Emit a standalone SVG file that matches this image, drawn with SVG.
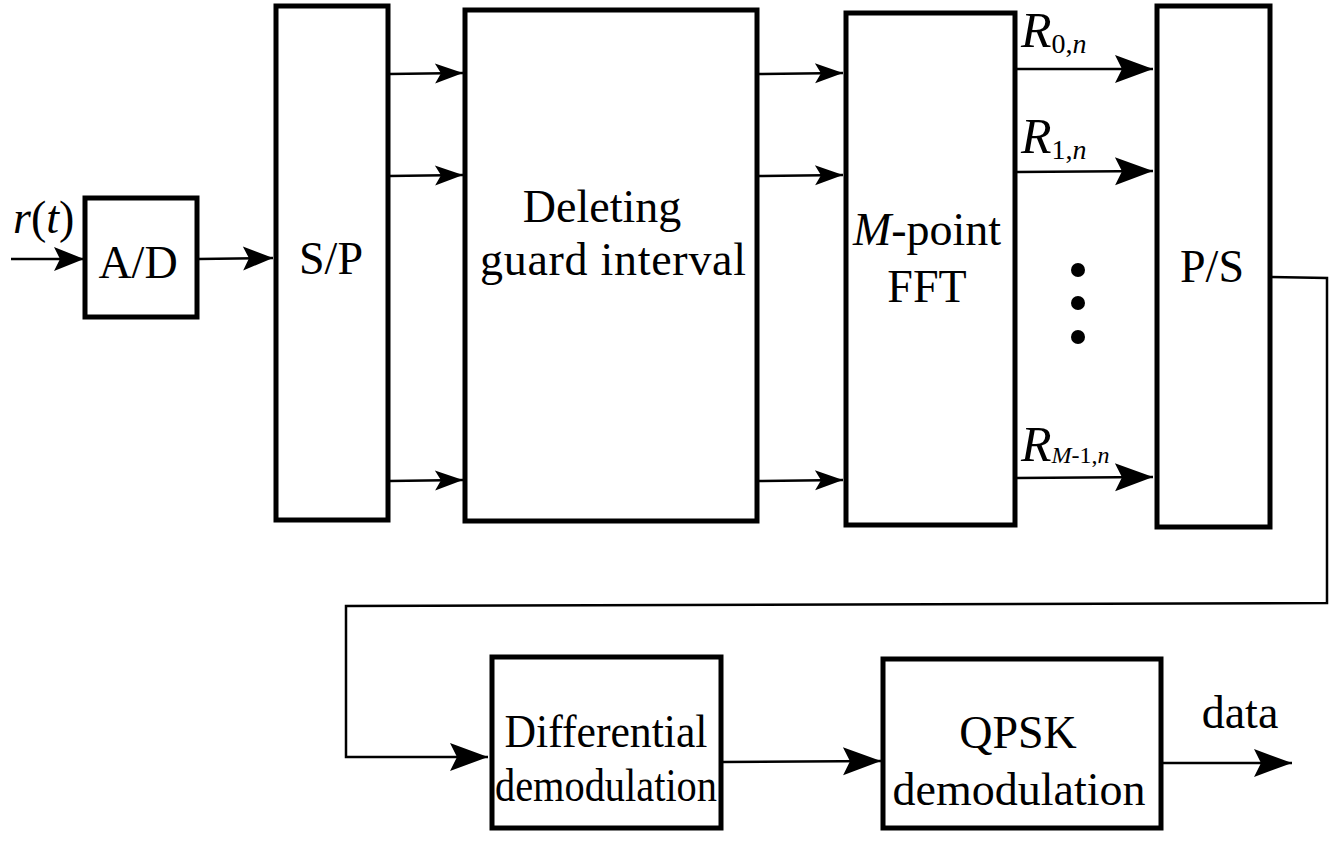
<svg xmlns="http://www.w3.org/2000/svg" width="1338" height="861" viewBox="0 0 1338 861">
  <style>
    .box { fill: #fff; stroke: #000; stroke-width: 5; }
    .wire { fill: none; stroke: #000; stroke-width: 2.5; }
    .lbl { font-family: 'Liberation Serif', Tinos, 'DejaVu Serif', serif; font-size: 46px; fill: #000; }
    .it { font-style: italic; }
    .sym { font-size: 50px; }
    .sub { font-size: 28px; }
    .sub-narrow { font-size: 24px; }
  </style>
  <defs>
    <marker id="big" markerUnits="userSpaceOnUse" markerWidth="40" markerHeight="30" viewBox="-38 -15 39 30" refX="0" refY="0" orient="auto">
      <path d="M0,0 L-38,-14 L-31,0 L-38,14 Z" fill="#000"/>
    </marker>
    <marker id="mid" markerUnits="userSpaceOnUse" markerWidth="32" markerHeight="26" viewBox="-30 -13 31 26" refX="0" refY="0" orient="auto">
      <path d="M0,0 L-30,-12 L-24,0 L-30,12 Z" fill="#000"/>
    </marker>
    <marker id="small" markerUnits="userSpaceOnUse" markerWidth="30" markerHeight="22" viewBox="-29 -11 30 22" refX="0" refY="0" orient="auto">
      <path d="M0,0 L-28,-10 L-22,0 L-28,10 Z" fill="#000"/>
    </marker>
  </defs>

  <!-- signal paths between blocks -->
  <g id="connectors">
    <path class="wire" d="M11,259 L84,259" marker-end="url(#mid)"/>
    <path class="wire" d="M198,259 L273,258" marker-end="url(#mid)"/>
    <path class="wire" d="M389,74 L463,73" marker-end="url(#small)"/>
    <path class="wire" d="M389,176 L463,175" marker-end="url(#small)"/>
    <path class="wire" d="M389,481 L463,480" marker-end="url(#small)"/>
    <path class="wire" d="M759,74 L843,73" marker-end="url(#small)"/>
    <path class="wire" d="M759,176 L843,175" marker-end="url(#small)"/>
    <path class="wire" d="M759,481 L843,480" marker-end="url(#small)"/>
    <path class="wire" d="M1016,69 L1153,69" marker-end="url(#big)"/>
    <path class="wire" d="M1016,172 L1153,171" marker-end="url(#big)"/>
    <path class="wire" d="M1016,478 L1153,477" marker-end="url(#big)"/>
    <path class="wire" d="M1271,277 L1327,278 L1327,603 L346,606 L346,757 L488,757" marker-end="url(#big)"/>
    <path class="wire" d="M722,762 L881,761" marker-end="url(#big)"/>
    <path class="wire" d="M1162,763 L1292,763" marker-end="url(#big)"/>
  </g>

  <g id="input-label">
    <text class="lbl" x="13" y="233"><tspan class="it">r</tspan>(<tspan class="it">t</tspan>)</text>
  </g>

  <g id="ad">
    <rect class="box" x="85" y="198" width="112" height="119"/>
    <text class="lbl" x="138" y="278" text-anchor="middle">A/D</text>
  </g>

  <g id="sp">
    <rect class="box" x="276" y="6" width="112" height="514"/>
    <text class="lbl" x="331" y="274" text-anchor="middle">S/P</text>
  </g>

  <g id="guard">
    <rect class="box" x="465" y="10" width="292" height="511"/>
    <text class="lbl" x="602" y="222" text-anchor="middle">Deleting</text>
    <text class="lbl" x="613" y="275" text-anchor="middle" textLength="266" lengthAdjust="spacing">guard interval</text>
  </g>

  <g id="fft">
    <rect class="box" x="846" y="13" width="169" height="512"/>
    <text class="lbl" x="927" y="245" text-anchor="middle"><tspan class="it">M</tspan>-point</text>
    <text class="lbl" x="927" y="302" text-anchor="middle">FFT</text>
  </g>

  <g id="subcarrier-labels">
    <text class="lbl" x="1021" y="47"><tspan class="it sym">R</tspan><tspan class="sub" dy="6">0,</tspan><tspan class="sub it">n</tspan></text>
    <text class="lbl" x="1021" y="153"><tspan class="it sym">R</tspan><tspan class="sub" dy="6">1,</tspan><tspan class="sub it">n</tspan></text>
    <text class="lbl" x="1021" y="461"><tspan class="it sym">R</tspan><tspan class="sub-narrow it" dy="2">M</tspan><tspan class="sub-narrow">-1,</tspan><tspan class="sub-narrow it">n</tspan></text>
    <circle cx="1078" cy="270" r="7" fill="#000"/>
    <circle cx="1078" cy="303" r="7" fill="#000"/>
    <circle cx="1078" cy="337" r="7" fill="#000"/>
  </g>

  <g id="ps">
    <rect class="box" x="1157" y="6" width="113" height="521"/>
    <text class="lbl" x="1212" y="282" text-anchor="middle">P/S</text>
  </g>

  <g id="diff">
    <rect class="box" x="492" y="657" width="229" height="171"/>
    <text class="lbl" x="606" y="747" text-anchor="middle" textLength="203" lengthAdjust="spacingAndGlyphs">Differential</text>
    <text class="lbl" x="606" y="801" text-anchor="middle" textLength="222" lengthAdjust="spacingAndGlyphs">demodulation</text>
  </g>

  <g id="qpsk">
    <rect class="box" x="883" y="659" width="278" height="169"/>
    <text class="lbl" x="1018" y="748" text-anchor="middle">QPSK</text>
    <text class="lbl" x="1019" y="805" text-anchor="middle">demodulation</text>
  </g>

  <g id="output-label">
    <text class="lbl" x="1240" y="728" text-anchor="middle">data</text>
  </g>
</svg>
